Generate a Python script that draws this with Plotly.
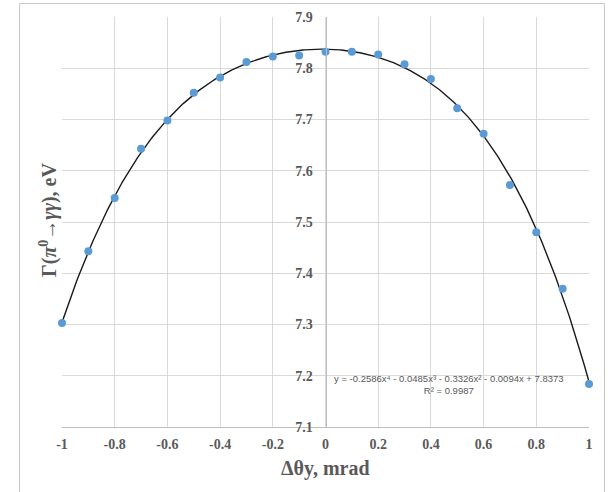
import numpy as np
import plotly.graph_objects as go

# Measured decay width vs. beam angle offset
dtheta = [-1.0, -0.9, -0.8, -0.7, -0.6, -0.5, -0.4, -0.3, -0.2, -0.1,
          0.0, 0.1, 0.2, 0.3, 0.4, 0.5, 0.6, 0.7, 0.8, 0.9, 1.0]
gamma_ev = [7.303, 7.443, 7.547, 7.643, 7.698, 7.752, 7.782, 7.812, 7.823, 7.825,
            7.832, 7.832, 7.827, 7.808, 7.779, 7.722, 7.672, 7.572, 7.480, 7.370, 7.184]

# 4th-order polynomial trendline coefficients (highest power first)
poly_coeffs = [-0.2586, -0.0485, -0.3326, -0.0094, 7.8373]
r_squared = 0.9987

x_tickvals = [-1, -0.8, -0.6, -0.4, -0.2, 0, 0.2, 0.4, 0.6, 0.8, 1]
x_ticktext = ["-1", "-0.8", "-0.6", "-0.4", "-0.2", "0", "0.2", "0.4", "0.6", "0.8", "1"]
y_tickvals = [7.1, 7.2, 7.3, 7.4, 7.5, 7.6, 7.7, 7.8, 7.9]
y_ticktext = ["7.1", "7.2", "7.3", "7.4", "7.5", "7.6", "7.7", "7.8", "7.9"]

x_fit = np.linspace(-1, 1, 401)
y_fit = np.polyval(poly_coeffs, x_fit)

W, H = 608, 492
SERIF = "Liberation Serif, Times New Roman, serif"
GRID = "#d9d9d9"
TXT = "#595959"

def px(x):
    return x / W

def py(y):
    return 1 - y / H

fig = go.Figure()
fig.add_trace(go.Scatter(
    x=x_fit, y=y_fit, mode="lines",
    line=dict(color="#1a1a1a", width=1.4),
    showlegend=False, hoverinfo="skip", cliponaxis=False,
))
fig.add_trace(go.Scatter(
    x=dtheta, y=gamma_ev, mode="markers",
    marker=dict(color="#5b9bd5", size=8, line=dict(width=0)),
    showlegend=False, hoverinfo="x+y", cliponaxis=False,
))

def term(c, p):
    sup = {4: "⁴", 3: "³", 2: "²", 1: "", 0: ""}[p]
    var = "x" if p > 0 else ""
    return f"{abs(c):.4f}{var}{sup}"

eq = "y = " + ("-" if poly_coeffs[0] < 0 else "") + term(poly_coeffs[0], 4)
for c, p in zip(poly_coeffs[1:], [3, 2, 1, 0]):
    eq += (" - " if c < 0 else " + ") + term(c, p)
eq_text = eq + f"<br>R² = {r_squared:.4f}"

frame = dict(color="#c8c8c8", width=1)

fig.update_layout(
    width=W, height=H,
    margin=dict(l=0, r=0, t=0, b=0, autoexpand=False),
    paper_bgcolor="white", plot_bgcolor="white",
    xaxis=dict(
        range=[-1, 1], tickvals=x_tickvals, ticktext=x_ticktext,
        domain=[px(62), px(589)],
        showgrid=True, gridcolor=GRID, gridwidth=1,
        zeroline=False, showline=True, linecolor="#bfbfbf", linewidth=1,
        tickfont=dict(family=SERIF, size=14, color=TXT, weight="bold"),
        ticks="", ticklabelstandoff=4, automargin=False,
    ),
    yaxis=dict(
        range=[7.1, 7.9], tickvals=y_tickvals, ticktext=y_ticktext,
        domain=[py(427), py(17)],
        showgrid=True, gridcolor=GRID, gridwidth=1,
        zeroline=False, showline=True, linecolor="#bfbfbf", linewidth=1,
        anchor="free", position=px(325.5),
        tickfont=dict(family=SERIF, size=14, color=TXT, weight="bold"),
        ticks="", ticklabelstandoff=10, automargin=False,
    ),
    shapes=[
        # chart-area frame: left, top and right edges
        dict(type="line", xref="paper", yref="paper",
             x0=px(19.5), x1=px(19.5), y0=0, y1=py(3.5), line=frame),
        dict(type="line", xref="paper", yref="paper",
             x0=px(19.5), x1=px(604.5), y0=py(3.5), y1=py(3.5), line=frame),
        dict(type="line", xref="paper", yref="paper",
             x0=px(604.5), x1=px(604.5), y0=0, y1=py(3.5), line=frame),
    ],
    annotations=[
        dict(text="<b>Δθy, mrad</b>", xref="paper", yref="paper",
             x=px(325), y=py(468), xanchor="center", yanchor="middle", showarrow=False,
             font=dict(family=SERIF, size=20, color=TXT)),
        dict(text="<b>Γ(<i>π</i><sup>0</sup>→<i>γγ</i>), eV</b>", xref="paper", yref="paper",
             x=px(48), y=py(220), xanchor="center", yanchor="middle", showarrow=False,
             textangle=-90, font=dict(family=SERIF, size=20, color=TXT)),
        dict(text=eq_text, xref="paper", yref="paper",
             x=px(449), y=py(384), xanchor="center", yanchor="middle",
             showarrow=False, align="center",
             font=dict(family="Liberation Sans, Arial, sans-serif", size=9.5, color=TXT)),
    ],
)

fig.write_html("out.html")
